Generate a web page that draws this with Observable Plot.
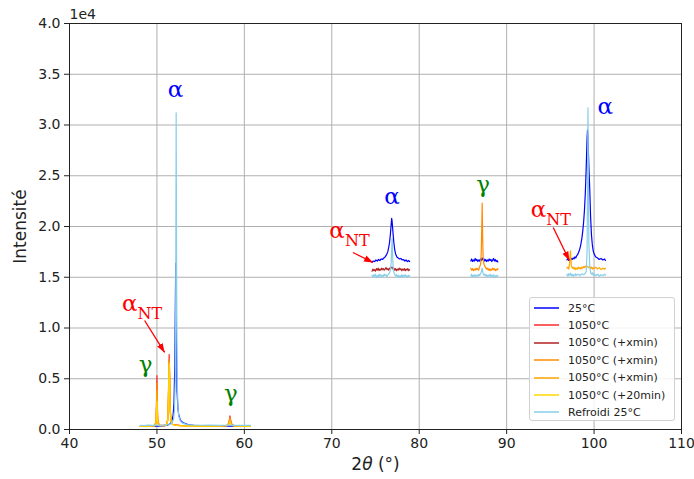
<!DOCTYPE html>
<html>
<head>
<meta charset="utf-8">
<script src="https://cdn.jsdelivr.net/npm/d3@7"></script>
<script src="https://cdn.jsdelivr.net/npm/@observablehq/plot@0.6"></script>
<style>
  body { margin: 0; background: #fff; }
  #wrap { position: relative; width: 694px; height: 479px; font-family: "DejaVu Sans", sans-serif; }
  #legend { position: absolute; left: 529px; top: 297px; width: 146px; height: 124px; box-sizing: border-box;
            border: 1px solid #d0d0d0; border-radius: 3px; background: rgba(255,255,255,0.85); }
  .row { position: absolute; left: 0; height: 14px; display: flex; align-items: center; font-size: 11px; color: #222; white-space: nowrap; }
  .row svg { margin-left: 4px; margin-right: 9px; }
</style>
</head>
<body>
<div id="wrap"><div id="legend"></div></div>
<script>
// ---------- data ----------
const xTicks = [40, 50, 60, 70, 80, 90, 100, 110];
const yTicks = [0, 5000, 10000, 15000, 20000, 25000, 30000, 35000, 40000];

const seriesNames = ["25°C", "1050°C", "1050°C (+xmin)", "1050°C (+xmin)", "1050°C (+xmin)", "1050°C (+20min)", "Refroidi 25°C"];
const seriesColors = ["#0000ff", "#ff2a2a", "#b22222", "#ff8c00", "#ffa500", "#ffd700", "#87ceeb"];

// 25°C
const blue_r1 = [[48.1,300],[48.6,310],[49.2,300],[49.8,320],[50.3,330],[50.8,360],[51.2,420],[51.5,560],[51.7,800],[51.85,1400],[51.95,2600],[52.05,6500],[52.1,11500],[52.15,16400],[52.2,12000],[52.25,6800],[52.3,3800],[52.4,2100],[52.5,1400],[52.7,900],[53.0,650],[53.5,500],[54.2,420],[55,380],[56,360],[57,350],[58,340],[58.35,360],[59,330],[60,320],[60.7,310]];
const blue_r2 = [[74.6,16500],[74.75,16600],[74.9,16550],[75.05,16700],[75.2,16600],[75.35,16750],[75.5,16650],[75.65,16800],[75.8,16750],[75.95,16900],[76.1,17000],[76.25,17200],[76.4,17500],[76.5,17900],[76.6,18400],[76.7,19200],[76.8,20300],[76.85,20800],[76.9,20500],[77.0,19400],[77.1,18400],[77.2,17700],[77.3,17300],[77.45,17000],[77.6,16900],[77.75,16800],[77.9,16850],[78.05,16700],[78.2,16750],[78.35,16600],[78.5,16700],[78.65,16550],[78.8,16650],[78.9,16550]];
const blue_r3 = [[85.9,16600],[86.0,16800],[86.1,16550],[86.2,16700],[86.3,16600],[86.4,16850],[86.5,16650],[86.6,16750],[86.7,16550],[86.8,16700],[86.9,16600],[87.0,16800],[87.1,16650],[87.2,16900],[87.3,16700],[87.4,16800],[87.5,16600],[87.6,16750],[87.7,16550],[87.8,16700],[87.9,16600],[88.0,16800],[88.1,16650],[88.2,16750],[88.3,16550],[88.4,16700],[88.5,16850],[88.6,16600],[88.7,16750],[88.8,16550],[88.9,16650],[89.0,16500]];
const blue_r4 = [[96.9,16700],[97.0,16900],[97.1,16650],[97.2,16800],[97.3,16700],[97.4,16850],[97.5,16750],[97.6,16900],[97.7,16800],[97.8,17000],[97.9,16900],[98.0,17100],[98.1,17200],[98.2,17400],[98.3,17600],[98.4,17900],[98.5,18300],[98.6,18800],[98.7,19500],[98.8,20400],[98.9,21600],[99.0,23300],[99.1,25800],[99.2,28700],[99.25,29500],[99.3,28800],[99.4,26000],[99.5,23800],[99.6,21000],[99.7,19200],[99.8,18200],[99.9,17600],[100.0,17300],[100.2,17000],[100.4,16900],[100.6,16750],[100.8,16850],[101.0,16700],[101.2,16800],[101.3,16650]];

// 1050°C
const red_r1 = [[48.1,330],[48.6,340],[49.2,350],[49.7,380],[49.9,700],[49.95,2600],[50.0,5300],[50.05,2300],[50.1,800],[50.3,420],[50.8,400],[51.1,480],[51.25,1100],[51.3,2600],[51.35,5200],[51.4,7400],[51.45,5600],[51.5,2500],[51.6,900],[51.8,520],[52.1,450],[52.6,400],[53.5,380],[55,360],[57,370],[58.0,400],[58.2,600],[58.3,1000],[58.35,1350],[58.4,1100],[58.5,600],[58.8,380],[59.5,360],[60.7,340]];

// 1050°C (+xmin) #1
const firebrick_r2 = [[74.6,15600],[74.7,15800],[74.8,15650],[74.9,15750],[75.0,15600],[75.1,15850],[75.2,15700],[75.3,15900],[75.4,15650],[75.5,15800],[75.6,15700],[75.7,15900],[75.8,15750],[75.9,15850],[76.0,15700],[76.1,15800],[76.2,15950],[76.3,15750],[76.4,15850],[76.5,15700],[76.6,15900],[76.7,15800],[76.8,15950],[76.9,16000],[77.0,15800],[77.1,15900],[77.2,15700],[77.3,15850],[77.4,15650],[77.5,15800],[77.6,15700],[77.7,15900],[77.8,15750],[77.9,15850],[78.0,15650],[78.1,15800],[78.2,15700],[78.3,15850],[78.4,15650],[78.5,15800],[78.6,15700],[78.7,15850],[78.8,15650],[78.9,15750]];

// 1050°C (+xmin) #2
const darkorange_r1 = [[48.1,320],[48.6,330],[49.2,340],[49.7,370],[49.9,650],[49.95,2300],[50.0,4600],[50.05,2000],[50.1,700],[50.3,400],[50.8,390],[51.1,460],[51.25,1000],[51.3,2400],[51.35,4900],[51.4,6900],[51.45,5300],[51.5,2300],[51.6,850],[51.8,500],[52.1,440],[52.6,390],[53.5,370],[55,350],[57,360],[58.0,390],[58.2,560],[58.3,900],[58.35,1200],[58.4,1000],[58.5,550],[58.8,370],[59.5,350],[60.7,330]];
const darkorange_r3 = [[85.9,15900],[86.0,15700],[86.1,15850],[86.2,15650],[86.3,15800],[86.4,15700],[86.5,15900],[86.6,15750],[86.7,15850],[86.8,15700],[86.9,16000],[87.0,16200],[87.05,16600],[87.1,17600],[87.15,19800],[87.2,22300],[87.25,19200],[87.3,17300],[87.35,16600],[87.4,16300],[87.5,16100],[87.6,15950],[87.7,15800],[87.8,15900],[87.9,15700],[88.0,15850],[88.1,15650],[88.2,15800],[88.3,15700],[88.4,15900],[88.5,15750],[88.6,15850],[88.7,15650],[88.8,15800],[88.9,15700],[89.0,15850]];

// 1050°C (+xmin) #3
const orange_r1 = [[48.1,310],[48.6,320],[49.2,330],[49.7,360],[49.9,600],[49.95,1900],[50.0,3800],[50.05,1700],[50.1,650],[50.3,390],[50.8,380],[51.1,450],[51.25,950],[51.3,2300],[51.35,4700],[51.4,6700],[51.45,5100],[51.5,2200],[51.6,800],[51.8,490],[52.1,430],[52.6,380],[53.5,360],[55,340],[57,350],[58.0,380],[58.2,520],[58.3,800],[58.35,1000],[58.4,850],[58.5,500],[58.8,360],[59.5,340],[60.7,320]];
const orange_r4 = [[96.9,15900],[97.0,16000],[97.1,15800],[97.2,16400],[97.25,17000],[97.3,17600],[97.35,16800],[97.4,16100],[97.5,15900],[97.6,16000],[97.7,15800],[97.8,15950],[97.9,15750],[98.0,15900],[98.1,15800],[98.2,16000],[98.3,15850],[98.4,15950],[98.5,15800],[98.6,16000],[98.7,15900],[98.8,16050],[98.9,15950],[99.0,16100],[99.1,16000],[99.2,16100],[99.3,16000],[99.4,15950],[99.5,16050],[99.6,15850],[99.7,16000],[99.8,15800],[99.9,15950],[100.0,15850],[100.2,16000],[100.4,15800],[100.6,15950],[100.8,15750],[101.0,15900],[101.2,15800],[101.3,15900]];

// 1050°C (+20min)
const gold_r1 = [[48.1,300],[48.6,310],[49.2,320],[49.7,350],[49.9,550],[49.95,1500],[50.0,2800],[50.05,1300],[50.1,600],[50.3,380],[50.8,370],[51.1,440],[51.25,900],[51.3,2200],[51.35,4500],[51.4,6500],[51.45,4900],[51.5,2100],[51.6,780],[51.8,480],[52.1,420],[52.6,370],[53.5,350],[55,330],[57,340],[58.0,370],[58.2,480],[58.3,680],[58.35,820],[58.4,700],[58.5,450],[58.8,350],[59.5,330],[60.7,310]];

// Refroidi 25°C
const sky_r1 = [[48.1,420],[48.5,380],[49.0,430],[49.5,400],[50.0,440],[50.5,420],[51.0,460],[51.4,480],[51.7,600],[51.9,1000],[52.0,1800],[52.1,5000],[52.15,14000],[52.2,31200],[52.25,16000],[52.3,6000],[52.4,2200],[52.5,1300],[52.7,800],[53.0,600],[53.5,480],[54,450],[55,420],[56,430],[57,400],[58,420],[58.4,440],[59,410],[60,420],[60.7,400]];
const sky_r2 = [[74.6,15200],[74.7,15000],[74.8,15250],[74.9,15100],[75.0,15300],[75.1,14950],[75.2,15150],[75.3,15050],[75.4,15300],[75.5,15100],[75.6,15250],[75.7,15000],[75.8,15200],[75.9,15100],[76.0,15300],[76.1,15150],[76.2,15250],[76.3,15050],[76.4,15200],[76.5,15300],[76.6,15400],[76.7,15700],[76.8,16500],[76.85,17800],[76.9,18800],[76.95,17500],[77.0,16200],[77.1,15500],[77.2,15300],[77.3,15100],[77.4,15250],[77.5,15050],[77.6,15200],[77.7,15000],[77.8,15150],[77.9,15050],[78.0,15250],[78.1,15000],[78.2,15200],[78.3,15100],[78.4,15250],[78.5,15050],[78.6,15150],[78.7,15000],[78.8,15200],[78.9,15100]];
const sky_r3 = [[85.9,15100],[86.0,15300],[86.1,15000],[86.2,15200],[86.3,15100],[86.4,15250],[86.5,15050],[86.6,15200],[86.7,15100],[86.8,15300],[86.9,15150],[87.0,15350],[87.1,15500],[87.2,15900],[87.3,15400],[87.4,15200],[87.5,15300],[87.6,15100],[87.7,15250],[87.8,15050],[87.9,15200],[88.0,15100],[88.1,15300],[88.2,15050],[88.3,15200],[88.4,15100],[88.5,15250],[88.6,15000],[88.7,15150],[88.8,15050],[88.9,15200],[89.0,15100]];
const sky_r4 = [[96.9,15300],[97.0,15100],[97.1,15350],[97.2,15200],[97.3,15400],[97.4,15150],[97.5,15300],[97.6,15100],[97.7,15250],[97.8,15150],[97.9,15350],[98.0,15200],[98.2,15300],[98.4,15150],[98.6,15350],[98.8,15250],[99.0,15400],[99.1,15600],[99.2,17500],[99.25,23000],[99.3,31700],[99.35,24500],[99.4,18500],[99.5,16200],[99.6,15500],[99.7,15300],[99.8,15450],[99.9,15200],[100.0,15350],[100.2,15150],[100.4,15300],[100.6,15100],[100.8,15250],[101.0,15150],[101.2,15300],[101.3,15200]];

const seriesSegments = [
  [blue_r1, blue_r2, blue_r3, blue_r4],
  [red_r1],
  [firebrick_r2],
  [darkorange_r1, darkorange_r3],
  [orange_r1, orange_r4],
  [gold_r1],
  [sky_r1, sky_r2, sky_r3, sky_r4]
];

// annotations (data coordinates)
const alphaX = [52.14, 76.89, 101.29];
const alphaY = [32800, 22170, 31130];
const gammaX = [48.71, 58.45, 87.32];
const gammaY = [5620, 2760, 23350];
const ntX = [47.79, 71.50, 94.53];
const ntY = [11630, 18820, 20890];
const arrowX1 = [48.59, 72.42, 95.33];
const arrowY1 = [10740, 17440, 19900];
const arrowX2 = [50.88, 74.71, 97.17];
const arrowY2 = [7590, 16450, 16650];

// ---------- chart ----------
const lineMarks = seriesSegments.map((segs, i) => {
  const rows = [];
  segs.forEach((seg, j) => seg.forEach(([x, y]) => rows.push({x, y, seg: j})));
  return Plot.line(rows, {x: "x", y: "y", z: "seg", stroke: seriesColors[i], strokeWidth: 1.2});
});

function arrowHead(color) {
  const m = d3.create("svg:marker")
    .attr("viewBox", "0 -5 10 10")
    .attr("refX", 10).attr("refY", 0)
    .attr("markerWidth", 9).attr("markerHeight", 9)
    .attr("markerUnits", "userSpaceOnUse")
    .attr("orient", "auto")
    .attr("fill", color).attr("stroke", "none");
  m.append("path").attr("d", "M0,-3.6L10,0L0,3.6Z");
  return m.node();
}

const idx3 = [0, 1, 2];
const serif = "DejaVu Serif";

const chart = Plot.plot({
  width: 694, height: 479,
  marginLeft: 69, marginRight: 13, marginTop: 23, marginBottom: 50,
  x: {domain: [40, 110]},
  y: {domain: [0, 40000]},
  style: {fontFamily: "DejaVu Sans", background: "white", color: "#222"},
  marks: [
    Plot.gridX({ticks: xTicks, stroke: "#b0b0b0", strokeOpacity: 1, strokeWidth: 1}),
    Plot.gridY({ticks: yTicks, stroke: "#b0b0b0", strokeOpacity: 1, strokeWidth: 1}),
    ...lineMarks,
    Plot.link(idx3, {x1: i => arrowX1[i], y1: i => arrowY1[i], x2: i => arrowX2[i], y2: i => arrowY2[i],
                     stroke: "red", strokeWidth: 1.3, markerEnd: arrowHead}),
    Plot.text(idx3, {x: i => alphaX[i], y: i => alphaY[i], text: () => "α", fill: "blue",
                     fontSize: 23, fontFamily: serif, lineAnchor: "bottom", textAnchor: "middle"}),
    Plot.text(idx3, {x: i => gammaX[i], y: i => gammaY[i], text: () => "γ", fill: "green",
                     fontSize: 23, fontFamily: serif, lineAnchor: "bottom", textAnchor: "middle"}),
    Plot.text(idx3, {x: i => ntX[i], y: i => ntY[i], text: () => "α", fill: "red",
                     fontSize: 23, fontFamily: serif, lineAnchor: "bottom", textAnchor: "end"}),
    Plot.text(idx3, {x: i => ntX[i], y: i => ntY[i], text: () => "NT", fill: "red", dy: 8,
                     fontSize: 16, fontFamily: serif, lineAnchor: "bottom", textAnchor: "start"}),
    Plot.frame({stroke: "#222", strokeWidth: 1}),
    Plot.axisX({ticks: xTicks, tickSize: 5, tickPadding: 4, fontSize: 14, label: null}),
    Plot.axisY({ticks: yTicks, tickFormat: d => (d / 1e4).toFixed(1), tickSize: 5, tickPadding: 4, fontSize: 14, label: null}),
    Plot.text(["1e4"], {frameAnchor: "top-left", text: d => d, dy: -5, textAnchor: "start", lineAnchor: "bottom", fontSize: 14}),
    Plot.text(["Intensité"], {frameAnchor: "left", text: d => d, rotate: -90, dx: -49, fontSize: 17, textAnchor: "middle", lineAnchor: "middle"}),
    Plot.text(["2θ (°)"], {frameAnchor: "bottom", text: d => d, dy: 35, fontSize: 17, textAnchor: "middle", lineAnchor: "middle"})
  ]
});

// italic theta in the x label (mathtext style)
d3.select(chart).selectAll("text").filter(function() { return this.textContent === "2θ (°)"; })
  .html('2<tspan font-style="italic">θ</tspan> (°)');

const wrap = document.getElementById("wrap");
wrap.insertBefore(chart, wrap.firstChild);

// legend
const legend = d3.select("#legend");
seriesNames.forEach((name, i) => {
  const row = legend.append("div").attr("class", "row").style("top", (3 + i * 17.4) + "px");
  const s = row.append("svg").attr("width", 25).attr("height", 4);
  s.append("line").attr("x1", 0).attr("x2", 25).attr("y1", 2).attr("y2", 2)
    .attr("stroke", seriesColors[i]).attr("stroke-width", 1.5);
  row.append("span").text(name);
});
</script>
</body>
</html>
